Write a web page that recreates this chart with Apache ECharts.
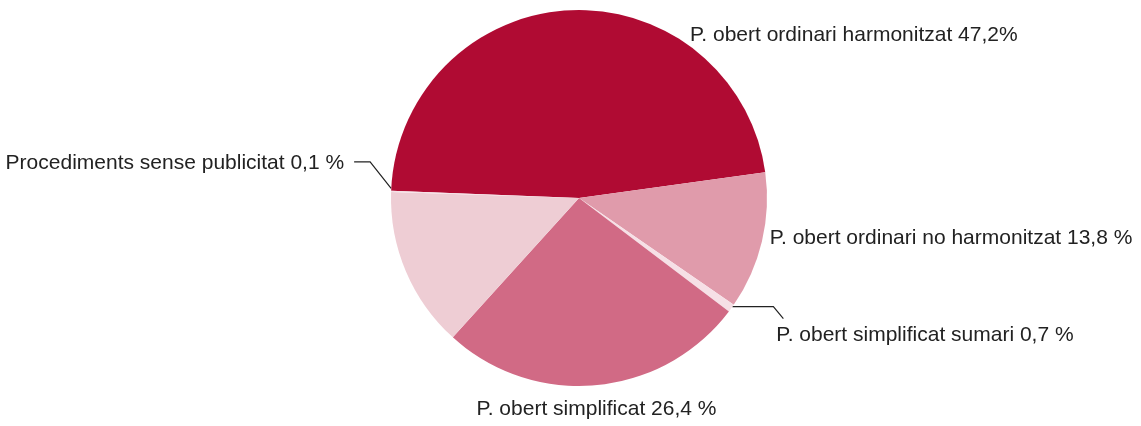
<!DOCTYPE html>
<html>
<head>
<meta charset="utf-8">
<script src="https://cdn.jsdelivr.net/npm/echarts@6/dist/echarts.min.js"></script>
<style>
  html, body { margin: 0; padding: 0; background: #fff; }
  #chart { width: 1141px; height: 426px; }
</style>
</head>
<body>
<div id="chart"></div>
<script>
// slices in clockwise order, sizes
const names = [
  'P. obert ordinari harmonitzat',
  'P. obert ordinari no harmonitzat',
  'P. obert simplificat sumari',
  'P. obert simplificat',
  'Altres',
  'Procediments sense publicitat'
];
const values = [47.2, 11.8, 0.7, 26.4, 13.8, 0.1];
const labelTexts = [
  'P. obert ordinari harmonitzat 47,2%',
  'P. obert ordinari no harmonitzat 13,8 %',
  'P. obert simplificat sumari 0,7 %',
  'P. obert simplificat 26,4 %',
  '',
  'Procediments sense publicitat 0,1 %'
];
const colors = ['#B00B33', '#E09BAB', '#F6E0E6', '#D16A85', '#EECDD4', '#F6E0E6'];

const cx = 579, cy = 198, R = 188;
const startAngle = 177.8;
const total = values.reduce((a, b) => a + b, 0);

function midAngle(i) {
  let before = 0;
  for (let k = 0; k < i; k++) before += values[k];
  return startAngle - (before + values[i] / 2) / total * 360;
}
function edge(i, r) {
  const a = midAngle(i) * Math.PI / 180;
  return [cx + r * Math.cos(a), cy - r * Math.sin(a)];
}

const chart = echarts.init(document.getElementById('chart'), null, { renderer: 'canvas' });

const option = {
  animation: false,
  series: [{
    type: 'pie',
    center: [cx, cy],
    radius: R,
    startAngle: startAngle,
    clockwise: true,
    avoidLabelOverlap: false,
    emphasis: { disabled: true },
    itemStyle: { borderWidth: 0 },
    label: {
      show: true,
      position: 'outside',
      fontFamily: 'Liberation Sans',
      fontSize: 21,
      color: '#222',
      formatter: p => labelTexts[p.dataIndex]
    },
    labelLine: {
      show: true,
      lineStyle: { color: '#222', width: 1.2 }
    },
    labelLayout: function (p) {
      const i = p.dataIndex;
      const e = edge(i, R);
      if (i === 0) {
        const a = 55.7 * Math.PI / 180;
        return { x: cx + (R + 9) * Math.cos(a), y: cy - (R + 9) * Math.sin(a), align: 'left', verticalAlign: 'middle' };
      }
      if (i === 1) {
        const q = edge(1, R + 8);
        return { x: q[0], y: q[1] - 5.5, align: 'left', verticalAlign: 'middle' };
      }
      if (i === 2) {
        const a = [e[0] + 1, e[1] - 1.5];
        const b = [a[0] + 41, a[1]];
        const c = [b[0] + 10, b[1] + 12];
        return { x: c[0] - 7, y: c[1] + 17, align: 'left', verticalAlign: 'middle', labelLinePoints: [a, b, c] };
      }
      if (i === 3) {
        const q = edge(3, R + 20);
        return { x: q[0] - 2, y: q[1] + 4, align: 'center', verticalAlign: 'middle' };
      }
      if (i === 5) {
        const a = [e[0], e[1] - 3];
        const b = [a[0] - 21, a[1] - 26.5];
        const c = [b[0] - 16, b[1]];
        return { x: c[0] - 10, y: c[1] + 1.5, align: 'right', verticalAlign: 'middle', labelLinePoints: [a, b, c] };
      }
    },
    data: names.map((n, i) => ({
      name: n,
      value: values[i],
      itemStyle: { color: colors[i] },
      label: { show: labelTexts[i] !== '' },
      labelLine: { show: i === 2 || i === 5 }
    }))
  }]
};

chart.setOption(option);
</script>
</body>
</html>
